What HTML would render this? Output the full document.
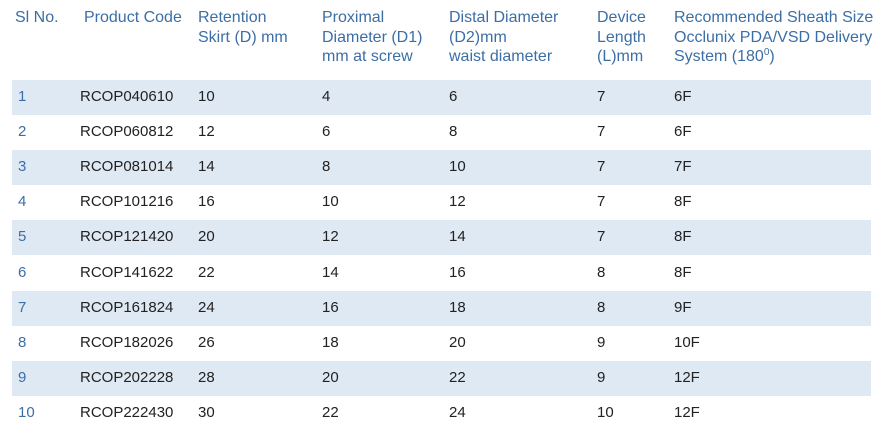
<!DOCTYPE html>
<html><head><meta charset="utf-8"><style>
body{margin:0;width:885px;height:437px;background:#fff;font-family:"Liberation Sans",sans-serif;position:relative;overflow:hidden}
.h{position:absolute;top:8px;color:#3c6ea6;font-size:16px;line-height:19.5px}
.h sup{font-size:10px;line-height:0;vertical-align:6px}
.row{position:absolute;left:12px;width:859px;height:35px}
.row.s{background:#dfe9f3}
.c{position:absolute;top:8px;font-size:15px;color:#222}
.c.n{color:#3c6ea6}
</style></head><body>
<div>
<div class="h" style="left:15px">Sl No.</div>
<div class="h" style="left:84px">Product Code</div>
<div class="h" style="left:198px">Retention<br>Skirt (D) mm</div>
<div class="h" style="left:322px">Proximal<br>Diameter (D1)<br>mm at screw</div>
<div class="h" style="left:449px">Distal Diameter<br>(D2)mm<br>waist diameter</div>
<div class="h" style="left:597px">Device<br>Length<br>(L)mm</div>
<div class="h" style="left:674px">Recommended Sheath Size<br>Occlunix PDA/VSD Delivery<br>System (180<sup>0</sup>)</div>
<div id="rows"></div>
</div>
<script>
const slNos=["1","2","3","4","5","6","7","8","9","10"];
const codes=["RCOP040610","RCOP060812","RCOP081014","RCOP101216","RCOP121420","RCOP141622","RCOP161824","RCOP182026","RCOP202228","RCOP222430"];
const skirt=[10,12,14,16,20,22,24,26,28,30];
const proximal=[4,6,8,10,12,14,16,18,20,22];
const distal=[6,8,10,12,14,16,18,20,22,24];
const lengths=[7,7,7,7,7,8,8,9,9,10];
const sheath=["6F","6F","7F","8F","8F","8F","9F","10F","12F","12F"];
const cols=[[6,"sl-no"],[68,"product-code"],[186,"retention-skirt"],[310,"proximal-diameter"],[437,"distal-diameter"],[585,"device-length"],[662,"sheath-size"]];
const host=document.getElementById('rows');
for(let i=0;i<slNos.length;i++){
  const r=document.createElement('div');
  r.className='row'+(i%2==0?' s':'');
  r.style.top=(80+i*35.1)+'px';
  
  
  const vals=[slNos[i],codes[i],skirt[i],proximal[i],distal[i],lengths[i],sheath[i]];
  vals.forEach((v,j)=>{
    const c=document.createElement('div');
    c.className='c'+(j==0?' n':'');
    c.style.left=cols[j][0]+'px';
    c.textContent=v;
    
    
    r.appendChild(c);
  });
  host.appendChild(r);
}
</script>
</body></html>
